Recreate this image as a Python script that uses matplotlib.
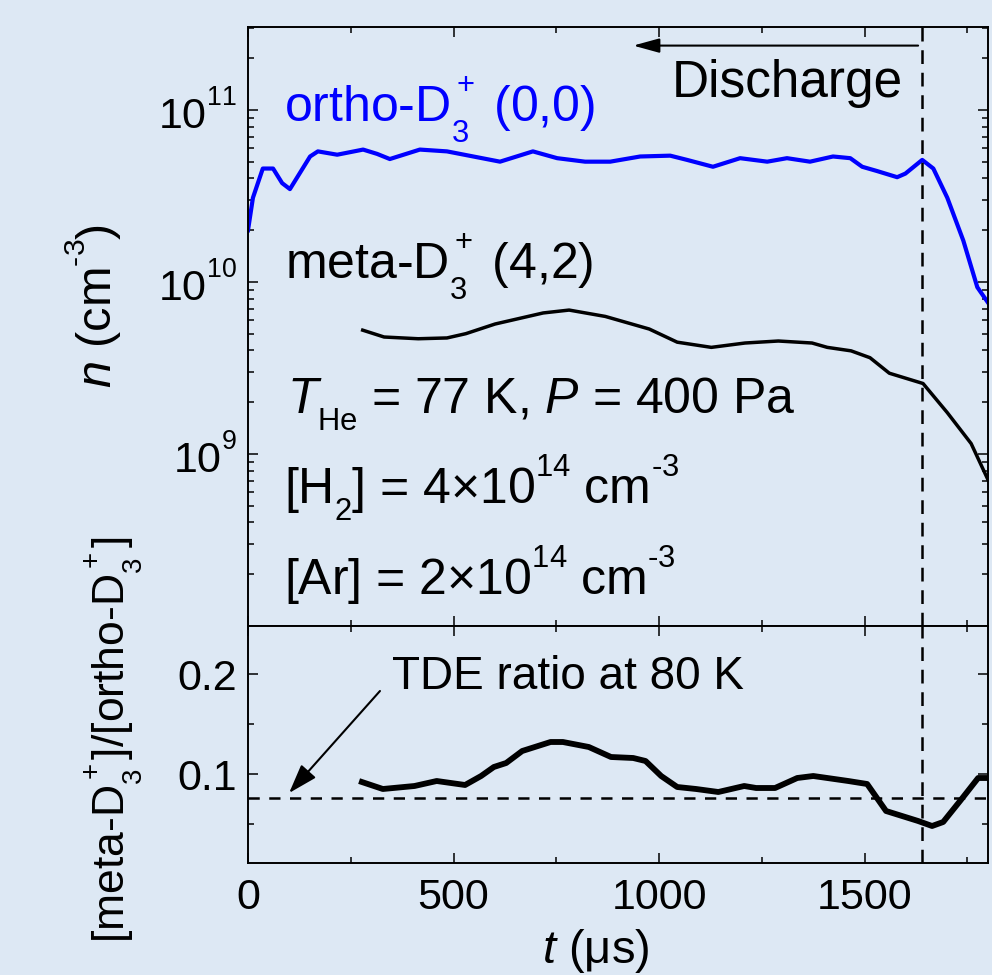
import matplotlib
matplotlib.use("Agg")
import matplotlib.pyplot as plt
from matplotlib.ticker import LogLocator, FixedLocator, MultipleLocator, NullFormatter

# Origin-like sub/superscript placement (higher superscripts, smaller scripts)
try:
    import matplotlib._mathtext as _mt
    _mt.SHRINK_FACTOR = 0.62
    _mt.FontConstantsBase.sup1 = 1.0
    _mt.FontConstantsBase.sub1 = 0.65
    _mt.FontConstantsBase.sub2 = 0.75
    _mt.FontConstantsBase.script_space = 0.0
except Exception:
    pass

# ---------------- data ----------------
ortho_t = [0, 12, 36, 61, 83, 102, 151, 170, 217, 280, 314, 345, 418, 484, 613, 693,
           752, 820, 881, 954, 1027, 1068, 1131, 1197, 1263, 1311, 1367, 1423, 1465,
           1494, 1530, 1579, 1599, 1640, 1667, 1701, 1740, 1774, 1800]
ortho_n = [2.00e10, 3.09e10, 4.57e10, 4.57e10, 3.76e10, 3.47e10, 5.37e10, 5.75e10,
           5.50e10, 5.89e10, 5.56e10, 5.19e10, 5.89e10, 5.75e10, 5.01e10, 5.75e10,
           5.25e10, 5.01e10, 5.01e10, 5.37e10, 5.43e10, 5.13e10, 4.68e10, 5.25e10,
           5.01e10, 5.25e10, 5.01e10, 5.37e10, 5.25e10, 4.68e10, 4.42e10, 4.07e10,
           4.27e10, 5.13e10, 4.57e10, 3.09e10, 1.74e10, 9.33e9, 7.59e9]

meta_t = [279, 331, 414, 484, 530, 601, 718, 781, 869, 976, 1044, 1127, 1209, 1290,
          1372, 1409, 1467, 1513, 1560, 1642, 1701, 1759, 1800]
meta_n = [5.25e9, 4.79e9, 4.68e9, 4.73e9, 5.01e9, 5.70e9, 6.61e9, 6.87e9, 6.31e9,
          5.33e9, 4.47e9, 4.17e9, 4.42e9, 4.54e9, 4.42e9, 4.17e9, 3.98e9, 3.63e9,
          2.95e9, 2.57e9, 1.74e9, 1.15e9, 7.08e8]

ratio_t = [277, 328, 405, 459, 528, 567, 598, 628, 667, 736, 766, 829, 883, 937, 967,
           1005, 1044, 1090, 1144, 1207, 1236, 1282, 1336, 1375, 1460, 1506, 1552,
           1630, 1664, 1691, 1732, 1776, 1800]
ratio_v = [0.092, 0.085, 0.088, 0.093, 0.089, 0.098, 0.107, 0.111, 0.123, 0.132, 0.132,
           0.127, 0.117, 0.116, 0.113, 0.098, 0.087, 0.085, 0.082, 0.088, 0.086, 0.086,
           0.096, 0.098, 0.093, 0.090, 0.063, 0.053, 0.048, 0.052, 0.073, 0.096, 0.096]

discharge_end = 1640
tde_ratio = 0.076
x_ticks = [0, 500, 1000, 1500]
n_ticks = [1e9, 1e10, 1e11]
ratio_ticks = [0.1, 0.2]

# ---------------- style ----------------
plt.rcParams['font.family'] = ['Liberation Sans', 'DejaVu Sans']
plt.rcParams['mathtext.fontset'] = 'custom'
plt.rcParams['mathtext.rm'] = 'Liberation Sans'
plt.rcParams['mathtext.it'] = 'Liberation Sans:italic'
plt.rcParams['mathtext.bf'] = 'Liberation Sans:bold'
plt.rcParams['axes.linewidth'] = 1.4

bg = '#dde8f4'
fig = plt.figure(figsize=(9.92, 9.75), dpi=100, facecolor=bg)
L, W = 248 / 992, 740 / 992
ax1 = fig.add_axes([L, 349 / 975, W, 599 / 975], facecolor=bg)
ax2 = fig.add_axes([L, 112 / 975, W, 237 / 975], facecolor=bg, sharex=ax1)

for ax in (ax1, ax2):
    ax.tick_params(which='both', direction='in', top=True, right=True, width=1.1,
                   labelsize=31, colors='k')
    ax.tick_params(which='major', length=7.2)
    ax.tick_params(which='minor', length=4.6)
    ax.tick_params(axis='y', pad=8)
    ax.tick_params(axis='x', pad=11)

HY = r'\text{-}'

# top panel
ax1.set_yscale('log')
ax1.plot(ortho_t, ortho_n, color='#0000ff', lw=3.0, solid_joinstyle='round')
ax1.plot(meta_t, meta_n, color='k', lw=2.5, solid_joinstyle='round')
ax1.axvline(discharge_end, color='k', lw=1.8, dashes=(5.5, 3.5))
ax1.set_xlim(0, 1800)
ax1.set_ylim(1e8, 3.04e11)
ax1.yaxis.set_major_locator(FixedLocator(n_ticks))
ax1.yaxis.set_minor_locator(LogLocator(base=10, subs=range(2, 10), numticks=20))
ax1.yaxis.set_minor_formatter(NullFormatter())
ax1.xaxis.set_major_locator(FixedLocator(x_ticks))
ax1.xaxis.set_minor_locator(MultipleLocator(250))
plt.setp(ax1.get_xticklabels(), visible=False)

ax1.annotate('', xy=(937, 2.37e11), xytext=(1630, 2.37e11),
             arrowprops=dict(arrowstyle='-|>,head_length=0.8,head_width=0.22',
                             lw=1.5, color='k', mutation_scale=20, shrinkA=0, shrinkB=0))
ax1.text(0.573, 0.883, 'Discharge', transform=ax1.transAxes, fontsize=37,
         ha='left', va='baseline')
ax1.text(0.0486, 0.8397, r'ortho-D$_3^+$ (0,0)', transform=ax1.transAxes, fontsize=36,
         color='#0000ff', ha='left', va='baseline')
ax1.text(0.05, 0.5776, r'meta-D$_3^+$ (4,2)', transform=ax1.transAxes, fontsize=36,
         ha='left', va='baseline')
ax1.text(0.0527, 0.3556, r'$T_{\mathrm{He}}$ = 77 K, $P$ = 400 Pa', transform=ax1.transAxes,
         fontsize=36, ha='left', va='baseline')
ax1.text(0.0486, 0.2053, r'[H$_2$] = 4×10$^{14}$ cm$^{' + HY + '3}$', transform=ax1.transAxes,
         fontsize=36, ha='left', va='baseline')
ax1.text(0.0486, 0.0518, r'[Ar] = 2×10$^{14}$ cm$^{' + HY + '3}$', transform=ax1.transAxes,
         fontsize=36, ha='left', va='baseline')

# bottom panel
ax2.plot(ratio_t, ratio_v, color='k', lw=4.2, solid_joinstyle='round')
ax2.axhline(tde_ratio, color='k', lw=1.8, dashes=(4.5, 3.8))
ax2.axvline(discharge_end, color='k', lw=1.8, dashes=(5.5, 3.5))
ax2.set_ylim(0.011, 0.248)
ax2.yaxis.set_major_locator(FixedLocator(ratio_ticks))
ax2.yaxis.set_minor_locator(FixedLocator([0.05, 0.15]))
ax2.set_xticks(x_ticks)
ax2.set_xticklabels([str(v) for v in x_ticks])
ax2.annotate('', xy=(100, 0.081), xytext=(321, 0.183),
             arrowprops=dict(arrowstyle='-|>,head_length=0.9,head_width=0.3',
                             lw=1.5, color='k', mutation_scale=20, shrinkA=0, shrinkB=0))
ax2.text(0.1946, 0.734, 'TDE ratio at 80 K', transform=ax2.transAxes, fontsize=33,
         ha='left', va='baseline')

# axis labels
fig.text(93 / 992, 1 - 306 / 975, r'$n$ (cm$^{' + HY + '3}$)', rotation=90, fontsize=35,
         ha='center', va='center')
fig.text(114 / 992, 1 - 740 / 975, r'[meta-D$_3^+$]/[ortho-D$_3^+$]', rotation=90,
         fontsize=32, ha='center', va='center')
fig.text(596 / 992, 1 - 963 / 975, r'$t$ (μs)', fontsize=34, ha='center', va='baseline')

fig.savefig('out.png', dpi=100, facecolor=bg)
